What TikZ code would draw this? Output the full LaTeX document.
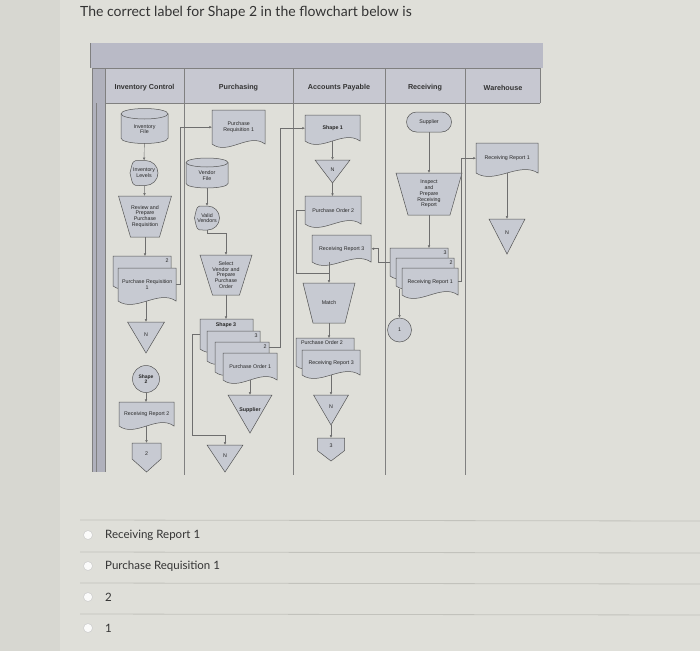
\documentclass[tikz,border=0pt]{standalone}
\usepackage{fontspec}
\setmainfont{Liberation Sans}
\newfontfamily\latofont{Lato}
\usetikzlibrary{arrows.meta,calc}
\definecolor{bgL}{HTML}{D7D7D1}
\definecolor{bgP}{HTML}{DFDFD9}
\definecolor{band}{HTML}{B9BAC6}
\definecolor{hdr}{HTML}{C7C8D1}
\definecolor{shfill}{HTML}{C7CAD2}
\definecolor{ln}{HTML}{555555}
\definecolor{sepc}{HTML}{C2C2BC}
\definecolor{txt}{HTML}{333333}
\tikzset{
 shp/.style={fill=shfill, draw=ln, line width=0.5pt},
 lbl/.style={inner sep=0pt, font=\fontsize{5.3}{5.8}\selectfont, align=center, text=black!85},
 conn/.style={draw=ln!85, line width=0.45pt, -{Latex[length=2.6pt,width=2.6pt]}},
 plain/.style={draw=ln!85, line width=0.45pt},
 lane/.style={draw=ln!75, line width=0.6pt},
 hlab/.style={inner sep=0pt, font=\bfseries\fontsize{7.2}{8}\selectfont, text=black!80},
 radio/.style={circle, draw=black!20, fill=white!88!bgP, minimum size=9pt, inner sep=0pt, line width=0.5pt},
 opt/.style={anchor=west, inner sep=0pt, font=\latofont\fontsize{11.5}{13}\selectfont, text=txt},
}
% document shape: name, x0, y0, w, h, text
\newcommand\docshape[6]{%
  \pgfmathsetmacro\qxa{#2+#4}\pgfmathsetmacro\qyb{#3+#5}%
  \pgfmathsetmacro\qca{#2+0.7*#4}\pgfmathsetmacro\qcb{#2+0.3*#4}%
  \pgfmathsetmacro\qua{#3+#5-12}\pgfmathsetmacro\qub{#3+#5+12}%
  \path[shp] (#2,#3) -- (\qxa,#3) -- (\qxa,\qyb) .. controls (\qca,\qua) and (\qcb,\qub) .. (#2,\qyb) -- cycle;
  \node[lbl, minimum width=#4pt, minimum height=#5pt, anchor=north west] (#1) at (#2,#3) {#6};}
% disk: name, xc, yc, w, h, text
\newcommand\diskshape[6]{%
  \pgfmathsetmacro\qrx{#4/2}\pgfmathsetmacro\qry{#5*0.15}%
  \pgfmathsetmacro\qxl{#2-#4/2}\pgfmathsetmacro\qxr{#2+#4/2}%
  \pgfmathsetmacro\qyt{#3-#5/2+\qry}\pgfmathsetmacro\qybb{#3+#5/2-\qry}%
  \pgfmathsetmacro\qlt{#3+\qry*0.6}%
  \path[shp] (\qxl,\qyt) -- (\qxl,\qybb) arc[start angle=180,end angle=360,x radius=\qrx pt,y radius=\qry pt] -- (\qxr,\qyt) arc[start angle=0,end angle=180,x radius=\qrx pt,y radius=\qry pt] -- cycle;
  \draw[draw=ln, line width=0.5pt] (\qxl,\qyt) arc[start angle=180,end angle=360,x radius=\qrx pt,y radius=\qry pt];
  \node[inner sep=0pt, minimum width=#4pt, minimum height=#5pt] (#1) at (#2,#3) {};
  \node[lbl] (#1-t) at (#2,\qlt) {#6};}
% display: name, xc, yc, w, h, text
\newcommand\dispshape[6]{%
  \pgfmathsetmacro\qxo{#2-#4/2}\pgfmathsetmacro\qyo{#3-#5/2}\pgfmathsetmacro\qyu{#3+#5/2}%
  \pgfmathsetmacro\qxs{#2+#4/2-#5/2}\pgfmathsetmacro\qxp{#2-#4/2+0.1*#4}\pgfmathsetmacro\qxq{#2-#4/2+0.33*#4}%
  \pgfmathsetmacro\qrr{#5/2}%
  \path[shp] (\qxo,#3) .. controls (\qxp,\qyo) .. (\qxq,\qyo) -- (\qxs,\qyo) arc[start angle=90,end angle=-90,radius=\qrr pt] -- (\qxq,\qyu) .. controls (\qxp,\qyu) .. (\qxo,#3) -- cycle;
  \node[lbl, minimum width=#4pt, minimum height=#5pt] (#1) at (#2,#3) {#6};}
% manual operation trapezoid: name, xc, y0, Wtop, wbottom, h, text
\newcommand\trapshape[7]{%
  \pgfmathsetmacro\qa{#2-#4/2}\pgfmathsetmacro\qb{#2+#4/2}%
  \pgfmathsetmacro\qc{#2+#5/2}\pgfmathsetmacro\qd{#2-#5/2}\pgfmathsetmacro\qe{#3+#6}\pgfmathsetmacro\qm{#3+#6/2}%
  \path[shp] (\qa,#3) -- (\qb,#3) -- (\qc,\qe) -- (\qd,\qe) -- cycle;
  \node[lbl, minimum width=#4pt, minimum height=#6pt] (#1) at (#2,\qm) {#7};}
% offline storage triangle: name, xc, y0, w, h, text
\newcommand\trishape[6]{%
  \pgfmathsetmacro\qa{#2-#4/2}\pgfmathsetmacro\qb{#2+#4/2}\pgfmathsetmacro\qe{#3+#5}%
  \pgfmathsetmacro\qm{#3+#5/2}\pgfmathsetmacro\qt{#3+0.4*#5}%
  \path[shp] (\qa,#3) -- (\qb,#3) -- (#2,\qe) -- cycle;
  \node[inner sep=0pt, minimum width=#4pt, minimum height=#5pt] (#1) at (#2,\qm) {};
  \node[lbl] (#1-t) at (#2,\qt) {#6};}
% off-page connector: name, xc, y0, w, h, text
\newcommand\offshape[6]{%
  \pgfmathsetmacro\qa{#2-#4/2}\pgfmathsetmacro\qb{#2+#4/2}\pgfmathsetmacro\qe{#3+#5}%
  \pgfmathsetmacro\qf{#3+0.55*#5}\pgfmathsetmacro\qm{#3+#5/2}\pgfmathsetmacro\qt{#3+0.35*#5}%
  \path[shp] (\qa,#3) -- (\qb,#3) -- (\qb,\qf) -- (#2,\qe) -- (\qa,\qf) -- cycle;
  \node[inner sep=0pt, minimum width=#4pt, minimum height=#5pt] (#1) at (#2,\qm) {};
  \node[lbl] (#1-t) at (#2,\qt) {#6};}
\begin{document}
\begin{tikzpicture}[x=1pt,y=-1pt]
\useasboundingbox (0,0) rectangle (700,651);
\fill[bgP] (0,0) rectangle (700,651);
\fill[bgL] (0,0) rectangle (60,651);
\node[anchor=west, inner sep=0pt, font=\latofont\fontsize{14}{16}\selectfont, text=txt] (title) at (80,13) {The correct label for Shape 2 in the flowchart below is};

% ---- swimlane frame ----
\fill[band] (90,43) rectangle (543,68);
\fill[hdr] (92,68) rectangle (540,103);
\fill[band!95!black] (92,68) rectangle (105,472);
\draw[lane] (90,43) -- (90,68);
\draw[lane] (92,68) -- (540,68);
\draw[lane] (105,103) -- (540,103);
\draw[lane] (92,68) -- (92,472);
\draw[lane] (96,103) -- (96,472);
\draw[lane] (105,68) -- (105,472);
\draw[lane] (184,68) -- (184,475);
\draw[lane] (293,68) -- (293,475);
\draw[lane] (385,68) -- (385,475);
\draw[lane] (465,68) -- (465,475);
\draw[lane] (540,68) -- (540,103);
\node[hlab] (hIC) at (144.5,88) {Inventory Control};
\node[hlab] (hPU) at (238.5,88) {Purchasing};
\node[hlab] (hAP) at (339,88) {Accounts Payable};
\node[hlab] (hRC) at (425,88) {Receiving};
\node[hlab] (hWH) at (503,88) {Warehouse};

% ---- Inventory Control ----
\diskshape{invF}{144.5}{126}{47}{35}{Inventory\\File}
\dispshape{invL}{144}{173}{28}{25}{Inventory\\Levels}
\trapshape{revT}{145}{196}{53}{29}{41}{Review and\\Prepare\\Purchase\\Requisition}
\docshape{prB}{113}{256}{58}{30}{}
\node[lbl] (prBn) at (167,261) {2};
\docshape{prF}{118}{268}{58}{33}{Purchase Requisition\\1}
\trishape{nI}{146}{322}{37}{31}{N}
\node[shp, circle, minimum size=27pt, inner sep=0pt, lbl, font=\bfseries\fontsize{5}{5.6}\selectfont] (shII) at (146,379) {Shape\\2};
\docshape{rrII}{119}{402}{55}{24}{Receiving Report 2}
\offshape{offII}{146.5}{443}{29}{29}{2}

% ---- Purchasing ----
\docshape{prP}{212}{110}{53}{34}{Purchase\\Requisition 1}
\diskshape{venF}{207}{173}{42}{30}{Vendor\\File}
\dispshape{valV}{207}{218}{25}{24}{Valid\\Vendors}
\trapshape{selT}{226}{255}{52}{27}{40}{Select\\Vendor and\\Prepare\\Purchase\\Order}
\docshape{poS}{200}{319}{53}{30}{}
\node[lbl] (poSn) at (226,325) {\textbf{Shape 3}};
\docshape{poC}{207}{331}{53}{30}{}
\node[lbl] (poCn) at (256,336) {3};
\docshape{poB}{215}{342}{54}{30}{}
\node[lbl] (poBn) at (265,347) {2};
\docshape{poA}{223}{353}{54}{27}{Purchase Order 1}
\trishape{supT}{250}{395}{44}{38}{\textbf{Supplier}}
\trishape{nII}{225}{445}{36}{27}{N}

% ---- Accounts Payable ----
\docshape{shI}{305}{115}{55}{26}{\textbf{Shape 1}}
\trishape{nIII}{332.5}{160}{35}{23}{N}
\docshape{poII}{305}{196}{56}{28}{Purchase Order 2}
\docshape{rrIII}{312}{235}{59}{27}{Receiving Report 3}
\trapshape{matT}{329}{283}{52}{32}{40}{Match}
\docshape{apB}{296}{338}{58}{28}{}
\node[lbl] (apBn) at (322,343) {Purchase Order 2};
\docshape{apF}{302}{350}{58}{25}{Receiving Report 3}
\trishape{nIV}{331}{395}{35}{30}{N}
\offshape{offIII}{331}{438}{27}{23}{3}

% ---- Receiving ----
\node[shp, rounded corners=10pt, minimum width=45pt, minimum height=20pt, lbl] (supR) at (429,122) {Supplier};
\trapshape{insT}{429}{173}{66}{42}{42}{Inspect\\and\\Prepare\\Receiving\\Report}
\docshape{rcC}{390}{248}{58}{28}{}
\node[lbl] (rcCn) at (445,253) {3};
\docshape{rcB}{396}{258}{58}{28}{}
\node[lbl] (rcBn) at (451,263) {2};
\docshape{rcA}{402}{268}{56}{27}{Receiving Report 1}
\node[shp, circle, minimum size=24pt, inner sep=0pt, lbl] (cI) at (399.5,330) {1};

% ---- Warehouse ----
\docshape{whR}{476}{143}{62}{30}{Receiving Report 1}
\trishape{nV}{507}{219}{36}{35}{N}

% ---- connectors ----
\draw[conn] (invF) -- (invL);
\draw[conn] (invL) -- (revT);
\draw[conn] (revT.south) -- (revT.south |- prB.north);
\draw[conn] (nI.north |- prF.south) -- (nI.north);
\draw[conn] (shII.south) -- (shII.south |- rrII.north);
\draw[conn] (offII.north |- rrII.south) -- (offII.north);
\draw[conn] (prF.east) -- ++(4,0) |- (prP.west);

\draw[conn] (venF) -- (valV);
\draw[conn] (valV.south) -- ++(0,3) -| (selT.north);
\draw[conn] (selT.south) -- (selT.south |- poS.north);
\draw[conn] (supT.north |- poA.south) -- (supT.north);
\draw[conn] (poS.west) -- ++(-8,0) |- ($(nII.north)+(0,-10)$) -- (nII.north);
\coordinate (poBe) at ($(poB.north east)+(0,5)$);
\draw[conn] (poBe) -- ++(11,0) |- (shI.west);

\draw[conn] (nIII.north |- shI.south) -- (nIII.north);
\draw[conn] (nIII.south) -- (nIII.south |- poII.north);
\coordinate (apj) at ($(matT.north)+(0,-10)$);
\draw[plain] (poII.west) -- ++(-9,0) |- (apj);
\draw[conn] (rrIII.south -| matT.north) -- (matT.north);
\draw[conn] (matT.south) -- (matT.south |- apB.north);
\draw[conn] (nIV.north |- apF.south) -- (nIV.north);
\draw[conn] (nIV.south) -- (offIII.north);

\draw[conn] (supR) -- (insT);
\draw[conn] (insT.south) -- (insT.south |- rcC.north);
\draw[conn] ($(cI.north |- rcB.south)+(0,3)$) -- (cI.north);
\draw[conn] (rcC.west) -- ++(-12,0) |- (rrIII.east);
\draw[conn] (rcA.east) -- ++(3,0) |- (whR.west);
\draw[conn] (whR.south -| nV.north) -- (nV.north);

% ---- answer options ----
\draw[sepc, line width=0.8pt] (80,520) -- (700,521);
\draw[sepc, line width=0.8pt] (80,552) -- (700,553);
\draw[sepc, line width=0.8pt] (80,583) -- (700,584);
\draw[sepc, line width=0.8pt] (80,614) -- (700,615);
\node[radio] (ra) at (88,535) {};
\node[radio] (rb) at (88,566) {};
\node[radio] (rc) at (88,597) {};
\node[radio] (rd) at (88,628) {};
\node[opt] (oa) at (105,535) {Receiving Report 1};
\node[opt] (ob) at (105,566) {Purchase Requisition 1};
\node[opt] (oc) at (105,597) {2};
\node[opt] (od) at (105,628) {1};
\end{tikzpicture}
\end{document}
